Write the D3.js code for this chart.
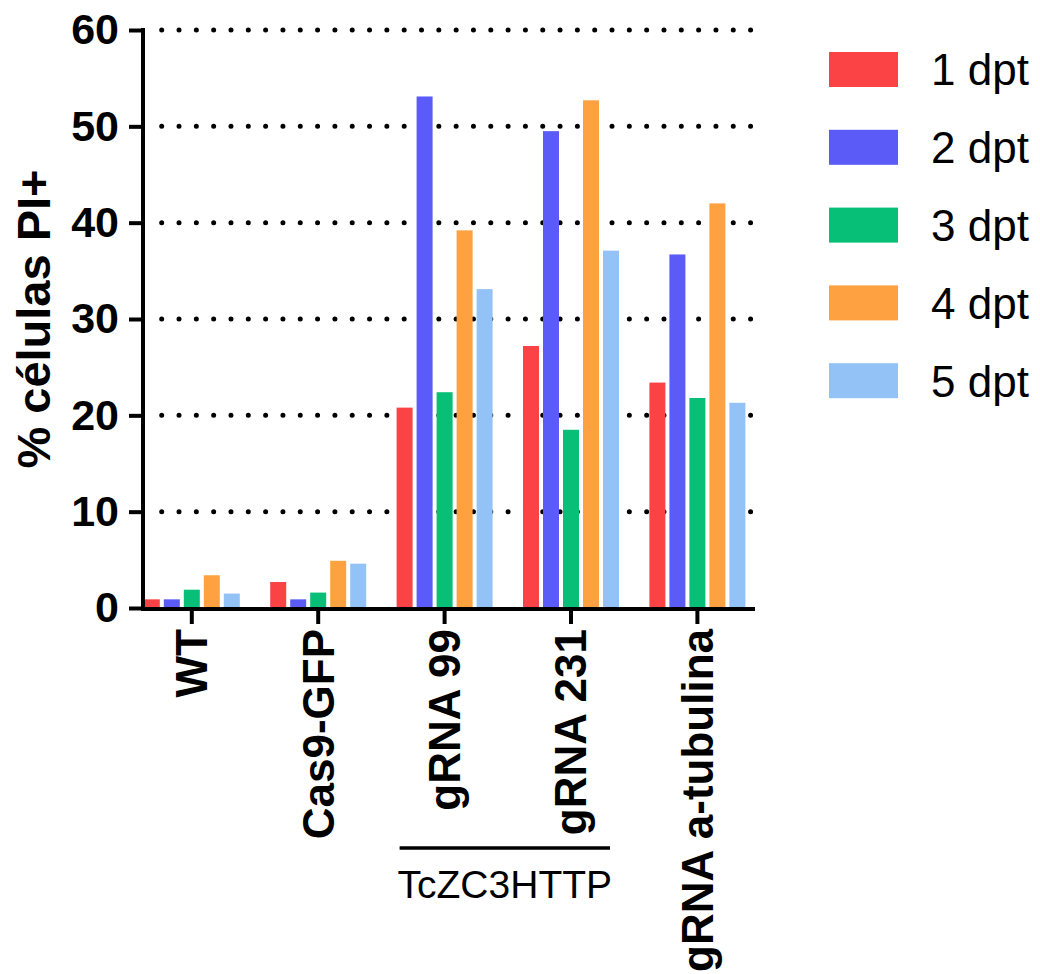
<!DOCTYPE html>
<html>
<head>
<meta charset="utf-8">
<script src="https://cdn.jsdelivr.net/npm/d3@7"></script>
<style>
  html, body { margin: 0; padding: 0; background: #fff; }
  svg { display: block; }
</style>
</head>
<body>
<svg id="chart" width="1040" height="974"></svg>
<script>
// Groups (x categories) and time points (series)
const groups = ["WT", "Cas9-GFP", "gRNA 99", "gRNA 231", "gRNA a-tubulina"];
const series = ["1 dpt", "2 dpt", "3 dpt", "4 dpt", "5 dpt"];

// % PI+ cells per group, one array per time point
const dpt1 = [0.9, 2.7, 20.8, 27.2, 23.4];
const dpt2 = [0.9, 0.9, 53.1, 49.5, 36.7];
const dpt3 = [1.9, 1.6, 22.4, 18.5, 21.8];
const dpt4 = [3.4, 4.9, 39.2, 52.7, 42.0];
const dpt5 = [1.5, 4.6, 33.1, 37.1, 21.3];
const seriesValues = [dpt1, dpt2, dpt3, dpt4, dpt5];

const yTicks = [0, 10, 20, 30, 40, 50, 60];
const gridTicks = [10, 20, 30, 40, 50, 60];
const colors = ["#fb4245", "#5b5bf8", "#08bf77", "#fea140", "#93c2f7"];

const yLabel = "% células PI+";
const bracketLabel = "TcZC3HTTP";
const bracketGroups = ["gRNA 99", "gRNA 231"];

// layout
const axisX = 143, plotRight = 755, plotTop = 30, plotBottom = 608;

const svg = d3.select("#chart");

const y = d3.scaleLinear().domain([0, 60]).range([plotBottom, plotTop]);
const x0 = d3.scaleBand().domain(groups).range([128.6, 760.6]).paddingInner(0).paddingOuter(0);
const x1 = d3.scaleBand().domain(series).range([-48, 48]).paddingInner(0.2);

const rows = groups.map((g, i) => ({
  group: g,
  values: series.map((s, j) => ({ series: s, value: seriesValues[j][i], color: colors[j] }))
}));

// dotted horizontal grid
svg.append("g")
  .selectAll("line")
  .data(gridTicks)
  .join("line")
  .attr("x1", 161.7)
  .attr("x2", 751)
  .attr("y1", d => y(d))
  .attr("y2", d => y(d))
  .attr("stroke", "#000")
  .attr("stroke-width", 5)
  .attr("stroke-linecap", "round")
  .attr("stroke-dasharray", "0,17.32");

// bars
svg.append("g")
  .selectAll("g")
  .data(rows)
  .join("g")
  .attr("transform", d => `translate(${x0(d.group) + x0.bandwidth() / 2},0)`)
  .selectAll("rect")
  .data(d => d.values)
  .join("rect")
  .attr("x", d => x1(d.series))
  .attr("width", x1.bandwidth())
  .attr("y", d => y(d.value))
  .attr("height", d => y(0) - y(d.value))
  .attr("fill", d => d.color);

// y axis
const yAxis = svg.append("g")
  .attr("transform", `translate(${axisX},0)`)
  .call(d3.axisLeft(y).tickValues(yTicks).tickSize(14).tickSizeOuter(0).tickPadding(10));
yAxis.select(".domain").attr("stroke-width", 4).attr("d", `M0,${y(60) - 2}V${plotBottom + 2}`);
yAxis.selectAll(".tick line").attr("stroke-width", 4);
yAxis.selectAll(".tick text")
  .attr("font-family", "'Liberation Sans', Arial, sans-serif")
  .attr("font-weight", "bold")
  .attr("font-size", 43)
  .attr("fill", "#000");

// x axis
const xAxis = svg.append("g")
  .attr("transform", `translate(0,${plotBottom})`)
  .call(d3.axisBottom(x0).tickSize(16).tickSizeOuter(0).tickPadding(0));
xAxis.select(".domain").remove();
xAxis.selectAll(".tick line").attr("stroke-width", 4);
xAxis.append("line")
  .attr("x1", axisX - 2)
  .attr("x2", plotRight)
  .attr("y1", 1)
  .attr("y2", 1)
  .attr("stroke", "#000")
  .attr("stroke-width", 4);
xAxis.selectAll(".tick text")
  .attr("font-family", "'Liberation Sans', Arial, sans-serif")
  .attr("font-weight", "bold")
  .attr("font-size", 44)
  .attr("fill", "#000")
  .attr("text-anchor", "end")
  .attr("transform", "translate(0,21) rotate(-90)")
  .attr("x", 0)
  .attr("y", 0)
  .attr("dy", "0.35em");

// y axis title
svg.append("text")
  .attr("transform", `translate(50,${(plotTop + plotBottom) / 2}) rotate(-90)`)
  .attr("text-anchor", "middle")
  .attr("font-family", "'Liberation Sans', Arial, sans-serif")
  .attr("font-weight", "bold")
  .attr("font-size", 47)
  .text(yLabel);

// bracket under the TcZC3HTTP guides
const bx1 = x0(bracketGroups[0]) + x0.bandwidth() / 2 - 45;
const bx2 = x0(bracketGroups[1]) + x0.bandwidth() / 2 + 39;
svg.append("line")
  .attr("x1", bx1).attr("x2", bx2)
  .attr("y1", 848).attr("y2", 848)
  .attr("stroke", "#000").attr("stroke-width", 3.5);
svg.append("text")
  .attr("x", (bx1 + bx2) / 2)
  .attr("y", 898)
  .attr("text-anchor", "middle")
  .attr("font-family", "'Liberation Sans', Arial, sans-serif")
  .attr("font-size", 39)
  .text(bracketLabel);

// legend
const legend = svg.append("g")
  .selectAll("g")
  .data(series)
  .join("g")
  .attr("transform", (d, i) => `translate(829,${52 + i * 77.8})`);
legend.append("rect")
  .attr("width", 69)
  .attr("height", 35)
  .attr("fill", (d, i) => colors[i]);
legend.append("text")
  .attr("x", 102)
  .attr("y", 17.5)
  .attr("dy", "0.36em")
  .attr("font-family", "'Liberation Sans', Arial, sans-serif")
  .attr("font-size", 44)
  .attr("fill", "#000")
  .text(d => d);
</script>
</body>
</html>
